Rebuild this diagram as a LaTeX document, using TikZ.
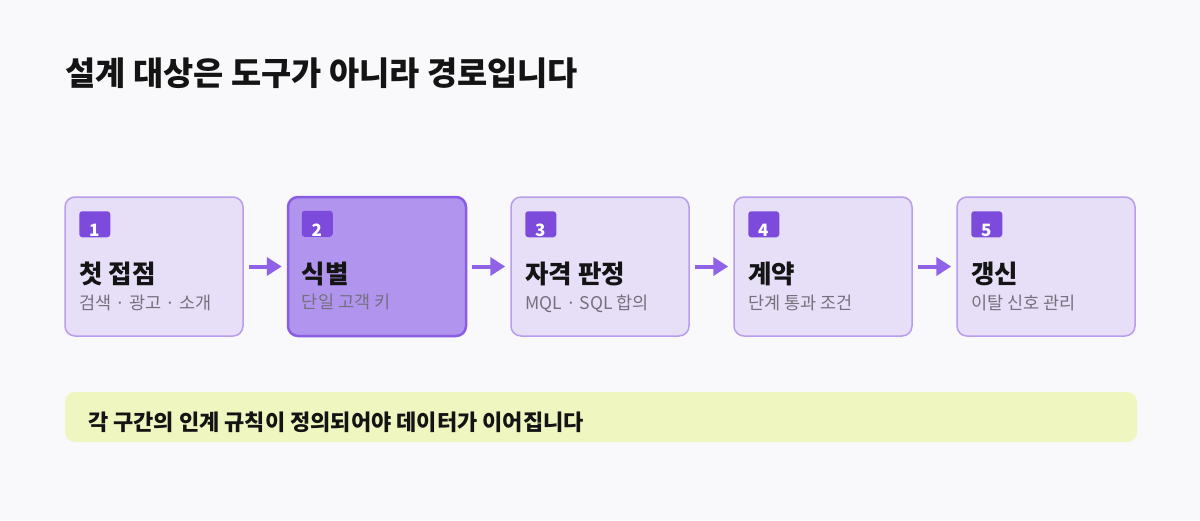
\documentclass[tikz,border=0pt]{standalone}
\usepackage{fontspec}
\setmainfont{Noto Sans CJK KR}
\usepackage{tikz}
\usetikzlibrary{calc,arrows.meta}
\usepackage{xcolor}
\definecolor{paper}{HTML}{F9F9FB}
\definecolor{inkdark}{HTML}{141414}
\definecolor{inkgray}{HTML}{74717C}
\definecolor{cardfill}{HTML}{E7DEF8}
\definecolor{cardline}{HTML}{B99CEC}
\definecolor{activefill}{HTML}{B094EE}
\definecolor{activeline}{HTML}{8A5CE4}
\definecolor{badgefill}{HTML}{7D4BDC}
\definecolor{flowcol}{HTML}{9062E8}
\definecolor{notefill}{HTML}{EFF6C0}

\begin{document}
\begin{tikzpicture}[x=1pt,y=-1pt,
  card/.style={draw=cardline,fill=cardfill,line width=1.5pt,rounded corners=10pt,
    minimum width=178pt,minimum height=139pt,inner sep=0pt},
  cardon/.style={card,draw=activeline,fill=activefill,line width=2.5pt},
  badge/.style={fill=badgefill,rounded corners=3pt,minimum width=31pt,minimum height=26pt,inner sep=0pt},
  flow/.style={draw=flowcol,line width=4pt,-{Triangle[length=15pt,width=18pt]},shorten <=5pt,shorten >=5pt}]
% Canvas
\fill[paper] (0,0) rectangle (1200,520);
\useasboundingbox (0,0) rectangle (1200,520);

% Heading
\node[anchor=base west,inner sep=0pt,text=inkdark,font=\bfseries\fontsize{32.8}{38}\selectfont] (head) at (65,85) {설계 대상은 도구가 아니라 경로입니다};

% Stages
\foreach \i/\nm/\sub/\sty in {1/첫 접점/검색 · 광고 · 소개/card, 2/식별/단일 고객 키/cardon,
    3/자격 판정/MQL · SQL 합의/card, 4/계약/단계 통과 조건/card, 5/갱신/이탈 신호 관리/card}{
  \node[\sty] (s\i) at ({154+223*(\i-1)},266.5) {};
  \node[badge] (b\i) at ($(s\i.north west)+(30.5,28)$) {};
  \node[anchor=base,inner sep=0pt,text=white,font=\bfseries\fontsize{17}{20}\selectfont] (k\i) at ($(s\i.north west)+(30,40.5)$) {\i};
  \node[anchor=base west,inner sep=0pt,text=inkdark,font=\bfseries\fontsize{25.5}{30}\selectfont] (t\i) at ($(s\i.north west)+(15,87.5)$) {\nm};
  \node[anchor=base west,inner sep=0pt,text=inkgray,font=\fontsize{17.5}{21}\selectfont] (d\i) at ($(s\i.north west)+(15,113)$) {\sub};
}

% Flow
\foreach \i [evaluate=\i as \j using int(\i+1)] in {1,...,4}
  \draw[flow] (s\i.east) -- (s\j.west);

% Note
\node[fill=notefill,rounded corners=10pt,minimum width=1072pt,minimum height=50pt,inner sep=0pt] (note) at (601,417) {};
\node[anchor=base west,inner sep=0pt,text=inkdark,font=\bfseries\fontsize{22}{26}\selectfont] (notetext) at ($(note.west)+(23,13)$) {각 구간의 인계 규칙이 정의되어야 데이터가 이어집니다};
\end{tikzpicture}
\end{document}
